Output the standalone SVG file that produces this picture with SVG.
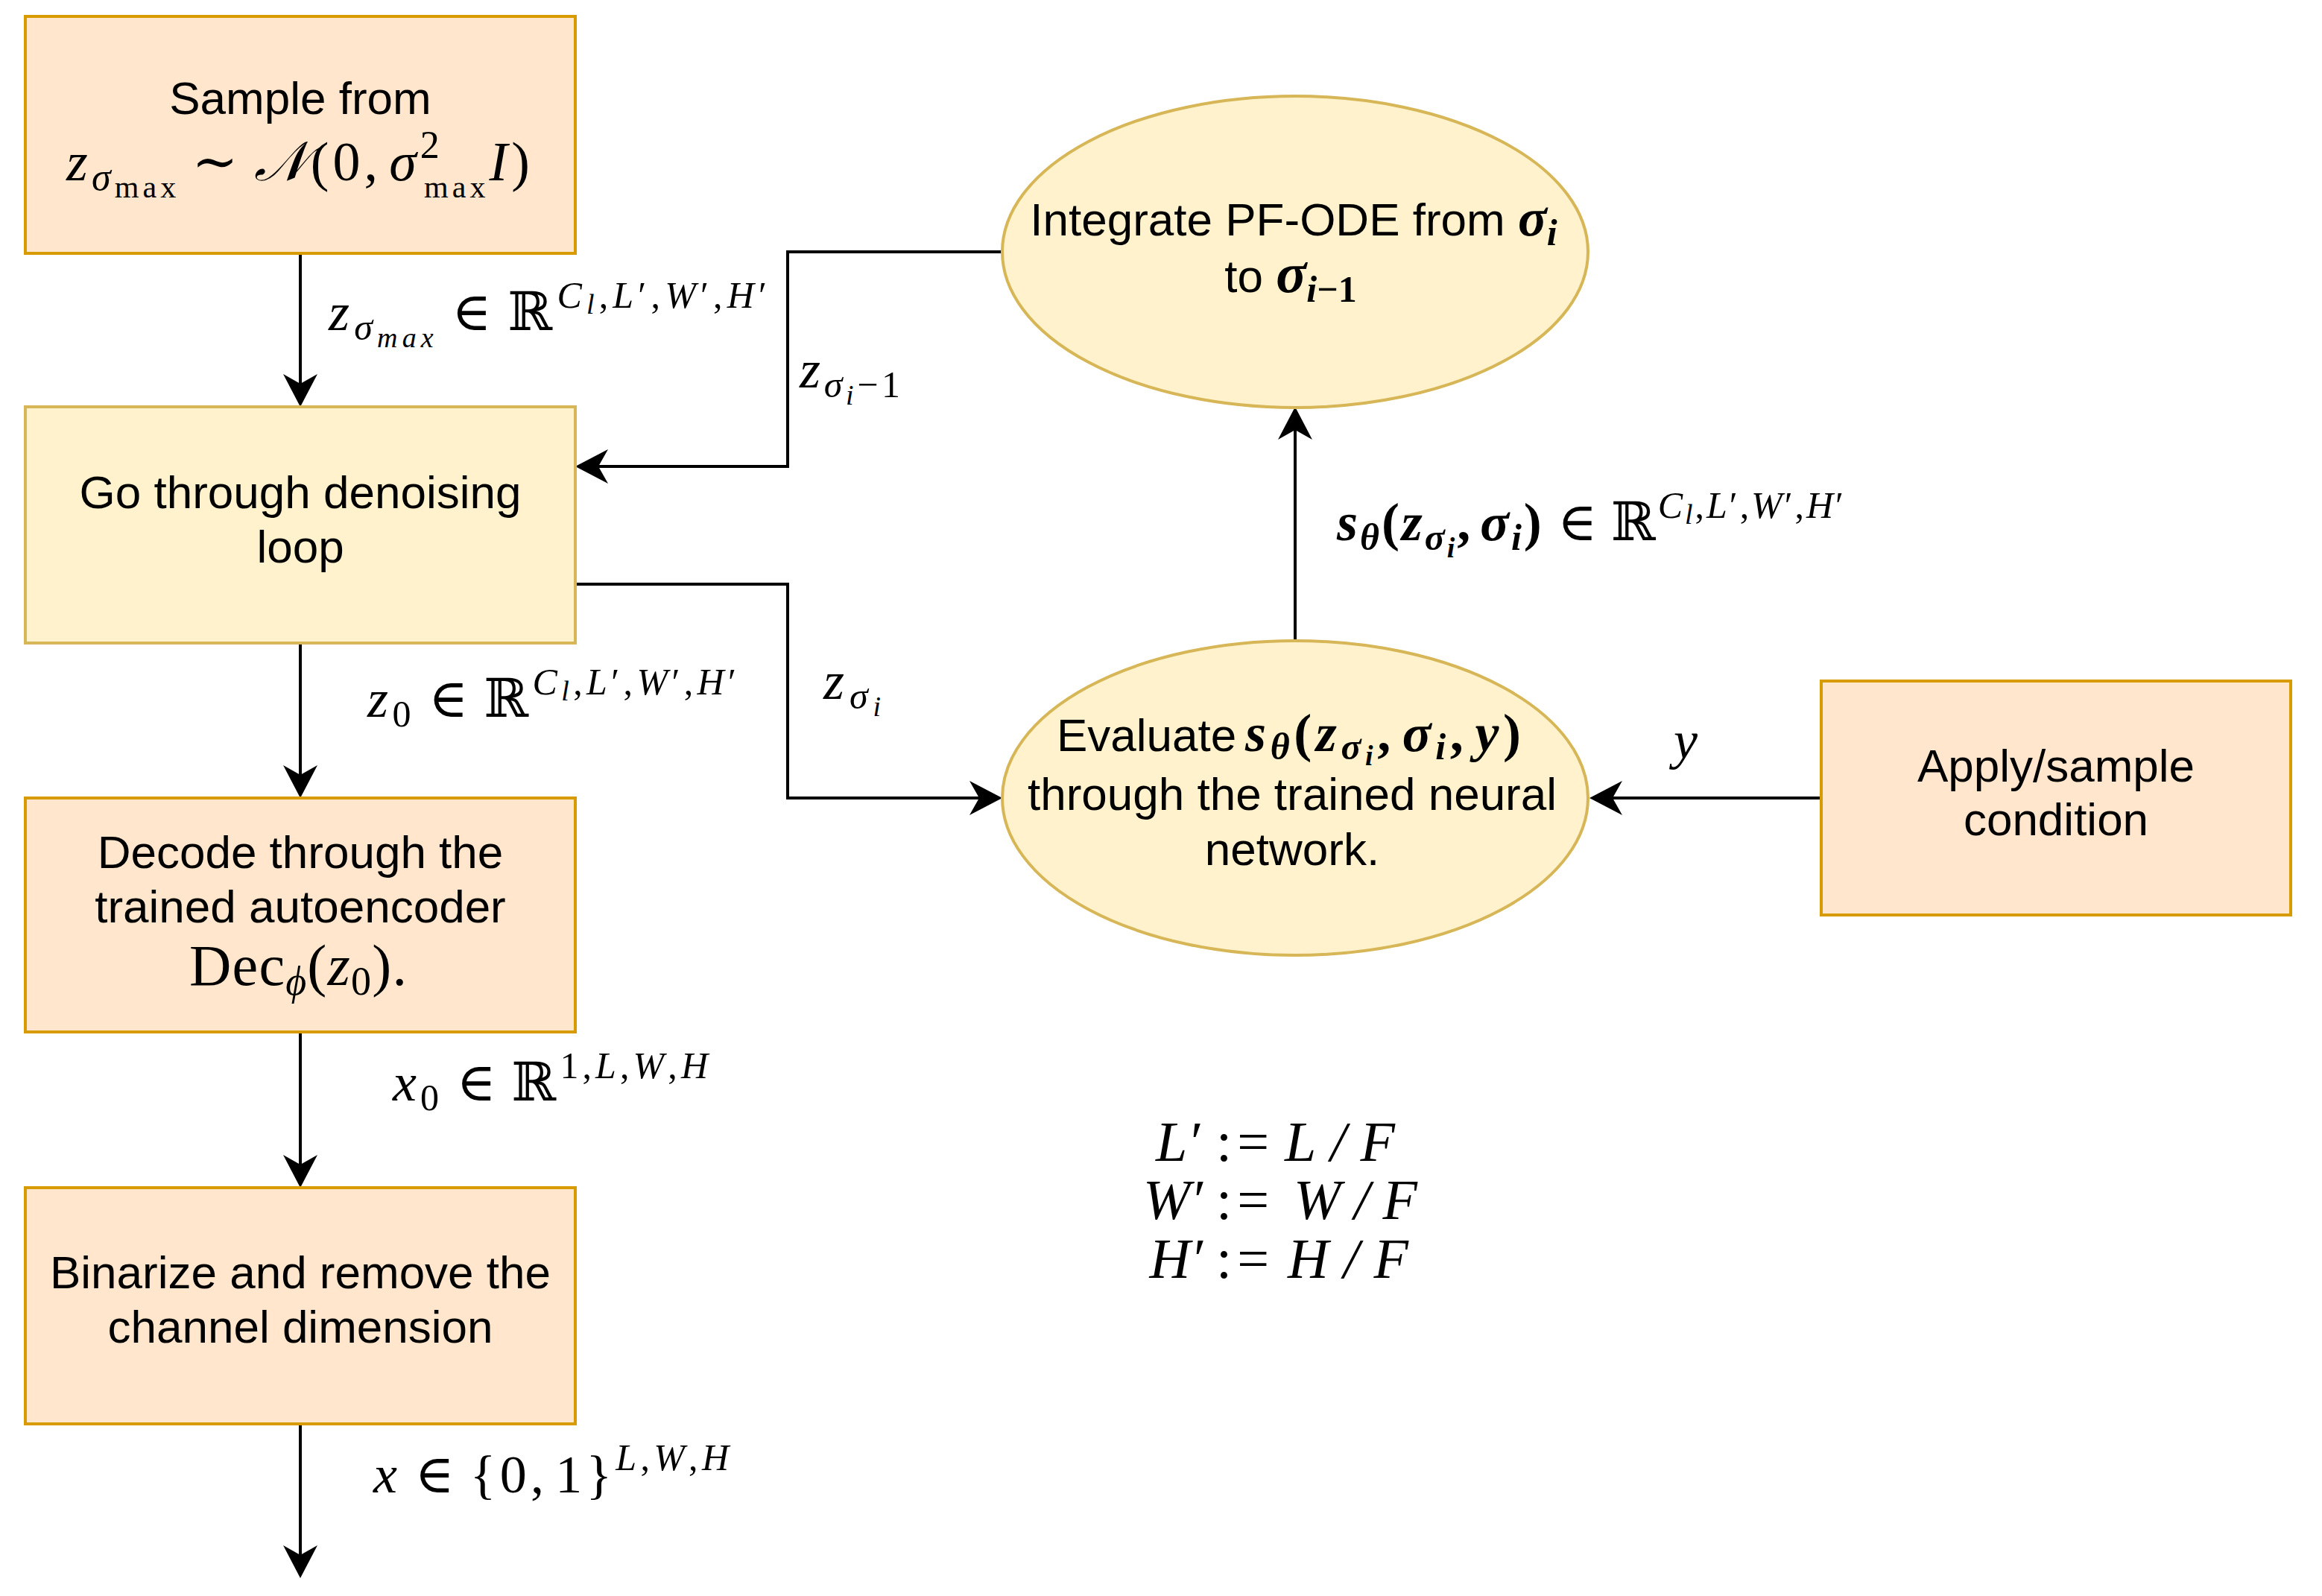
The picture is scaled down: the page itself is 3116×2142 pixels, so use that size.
<svg xmlns="http://www.w3.org/2000/svg" width="3116" height="2142" viewBox="0 0 3116 2142">
<style>
.bg{fill:#ffffff}
.or{fill:#FFE6CC;stroke:#D79B00;stroke-width:4}
.ye{fill:#FFF2CC;stroke:#D6B656;stroke-width:4}
.t{font-family:"Liberation Sans",Arial,sans-serif;font-size:62px;fill:#000;text-anchor:middle}
.ts{font-family:"Liberation Sans",Arial,sans-serif;font-size:62px;fill:#000}
.m{font-family:"Liberation Serif","DejaVu Serif",serif;font-size:72px;fill:#000}
.mc{text-anchor:middle}
.i{font-style:italic}
.b{font-weight:bold}
.s1{font-size:50px}
.s2{font-size:38px}
.d{font-family:"Liberation Serif","DejaVu Serif",serif;font-size:76px;fill:#000}
.c{fill:none;stroke:#000;stroke-width:4}
</style>
<defs>
<marker id="ah" viewBox="-36 -25 48 50" refX="0" refY="0" markerWidth="48" markerHeight="50" markerUnits="userSpaceOnUse" orient="auto">
<path d="M10,0 L-34,-23 L-21,0 L-34,23 Z" fill="#000"/>
</marker>
</defs>
<rect class="bg" x="0" y="0" width="3116" height="2142"/>

<g id="connectors">
<path class="c" d="M403,340 L403,536" marker-end="url(#ah)"/>
<path class="c" d="M1344,338 L1057,338 L1057,626 L782,626" marker-end="url(#ah)"/>
<path class="c" d="M772,784 L1057,784 L1057,1071 L1335,1071" marker-end="url(#ah)"/>
<path class="c" d="M1738,860 L1738,556" marker-end="url(#ah)"/>
<path class="c" d="M2444,1071 L2143,1071" marker-end="url(#ah)"/>
<path class="c" d="M403,863 L403,1061" marker-end="url(#ah)"/>
<path class="c" d="M403,1385 L403,1584" marker-end="url(#ah)"/>
<path class="c" d="M403,1911 L403,2108" marker-end="url(#ah)"/>
</g>

<g id="edge-labels">
<text class="m" x="441" y="443" textLength="588" lengthAdjust="spacing"><tspan class="i">z</tspan><tspan class="i s1" dy="13">σ</tspan><tspan class="i s2" dy="10">max</tspan><tspan dy="-23" dx="18">∈</tspan><tspan dx="16">ℝ</tspan><tspan class="i s1" dy="-30">C</tspan><tspan class="i s2" dy="8">l</tspan><tspan class="s1" dy="-8">,</tspan><tspan class="i s1">L</tspan><tspan class="s1">′,</tspan><tspan class="i s1">W</tspan><tspan class="s1">′,</tspan><tspan class="i s1">H</tspan><tspan class="s1">′</tspan></text>

<text class="m" x="1073" y="520" textLength="135" lengthAdjust="spacing"><tspan class="i">z</tspan><tspan class="i s1" dy="13">σ</tspan><tspan class="i s2" dy="10">i</tspan><tspan class="s1" dy="-10">−1</tspan></text>

<text class="m" x="493" y="962" textLength="495" lengthAdjust="spacing"><tspan class="i">z</tspan><tspan class="s1" dy="13">0</tspan><tspan dy="-13" dx="18">∈</tspan><tspan dx="16">ℝ</tspan><tspan class="i s1" dy="-30">C</tspan><tspan class="i s2" dy="8">l</tspan><tspan class="s1" dy="-8">,</tspan><tspan class="i s1">L</tspan><tspan class="s1">′,</tspan><tspan class="i s1">W</tspan><tspan class="s1">′,</tspan><tspan class="i s1">H</tspan><tspan class="s1">′</tspan></text>

<text class="m" x="1105" y="938" textLength="77" lengthAdjust="spacing"><tspan class="i">z</tspan><tspan class="i s1" dy="13">σ</tspan><tspan class="i s2" dy="10">i</tspan></text>

<text class="m" x="527" y="1477" textLength="423" lengthAdjust="spacing"><tspan class="i">x</tspan><tspan class="s1" dy="13">0</tspan><tspan dy="-13" dx="18">∈</tspan><tspan dx="16">ℝ</tspan><tspan class="s1" dy="-30">1,</tspan><tspan class="i s1">L</tspan><tspan class="s1">,</tspan><tspan class="i s1">W</tspan><tspan class="s1">,</tspan><tspan class="i s1">H</tspan></text>

<text class="m" x="501" y="2003" textLength="477" lengthAdjust="spacing"><tspan class="i">x</tspan><tspan dx="18">∈</tspan><tspan dx="16">{0,</tspan><tspan dx="10">1}</tspan><tspan class="i s1" dy="-30">L</tspan><tspan class="s1">,</tspan><tspan class="i s1">W</tspan><tspan class="s1">,</tspan><tspan class="i s1">H</tspan></text>

<text class="m" x="1794" y="725" textLength="680" lengthAdjust="spacing"><tspan class="i b">s</tspan><tspan class="i b s1" dy="13">θ</tspan><tspan class="b" dy="-13">(</tspan><tspan class="i b">z</tspan><tspan class="i b s1" dy="13">σ</tspan><tspan class="i b s2" dy="10">i</tspan><tspan class="b" dy="-23">,</tspan><tspan class="i b" dx="10">σ</tspan><tspan class="i b s1" dy="13">i</tspan><tspan class="b" dy="-13">)</tspan><tspan dx="18">∈</tspan><tspan dx="16">ℝ</tspan><tspan class="i s1" dy="-30">C</tspan><tspan class="i s2" dy="8">l</tspan><tspan class="s1" dy="-8">,</tspan><tspan class="i s1">L</tspan><tspan class="s1">′,</tspan><tspan class="i s1">W</tspan><tspan class="s1">′,</tspan><tspan class="i s1">H</tspan><tspan class="s1">′</tspan></text>

<text class="m i mc" x="2262" y="1018">y</text>
</g>

<g id="definitions">
<text class="d i" x="1610" y="1558" text-anchor="end">L′</text>
<text class="d" x="1632" y="1558" textLength="71" lengthAdjust="spacing">:=</text>
<text class="d i" x="1724" y="1558" textLength="148" lengthAdjust="spacing">L/F</text>
<text class="d i" x="1614" y="1636" text-anchor="end">W′</text>
<text class="d" x="1632" y="1636" textLength="71" lengthAdjust="spacing">:=</text>
<text class="d i" x="1736" y="1636" textLength="166" lengthAdjust="spacing">W/F</text>
<text class="d i" x="1614" y="1715" text-anchor="end">H′</text>
<text class="d" x="1632" y="1715" textLength="71" lengthAdjust="spacing">:=</text>
<text class="d i" x="1728" y="1715" textLength="162" lengthAdjust="spacing">H/F</text>
</g>

<g id="node-sample">
<rect class="or" x="34" y="22" width="738" height="318"/>
<text class="t" x="403" y="153">Sample from</text>
<text class="m mc" x="400" y="242" style="font-size:74px" textLength="622" lengthAdjust="spacing"><tspan class="i">z</tspan><tspan class="i" style="font-size:52px" dy="13">σ</tspan><tspan style="font-size:42px" dy="10">max</tspan><tspan dy="-23" dx="16">∼</tspan><tspan dx="16" class="i">𝒩</tspan><tspan>(0,</tspan><tspan dx="10" class="i">σ</tspan><tspan style="font-size:52px" dy="-30">2</tspan><tspan style="font-size:42px" dx="-26" dy="53">max</tspan><tspan class="i" dy="-23">I</tspan><tspan>)</tspan></text>
</g>

<g id="node-denoise">
<rect class="ye" x="34" y="546" width="738" height="317"/>
<text class="t" x="403" y="682">Go through denoising</text>
<text class="t" x="403" y="755">loop</text>
</g>

<g id="node-decode">
<rect class="or" x="34" y="1071" width="738" height="314"/>
<text class="t" x="403" y="1165">Decode through the</text>
<text class="t" x="403" y="1238">trained autoencoder</text>
<text class="m mc" x="400" y="1322" style="font-size:78px" textLength="292" lengthAdjust="spacing"><tspan>Dec</tspan><tspan class="i" style="font-size:54px" dy="13">ϕ</tspan><tspan dy="-13">(</tspan><tspan class="i">z</tspan><tspan style="font-size:54px" dy="13">0</tspan><tspan dy="-13">).</tspan></text>
</g>

<g id="node-binarize">
<rect class="or" x="34" y="1594" width="738" height="317"/>
<text class="t" x="403" y="1729">Binarize and remove the</text>
<text class="t" x="403" y="1802">channel dimension</text>
</g>

<g id="node-integrate">
<ellipse class="ye" cx="1738" cy="338" rx="393" ry="209"/>
<text class="t" x="1736" y="316">Integrate PF-ODE from <tspan class="m i b">σ</tspan><tspan class="m i b s1" dy="13">i</tspan></text>
<text class="t" x="1732" y="392">to <tspan class="m i b" style="font-size:76px">σ</tspan><tspan class="m i b s1" dy="13">i</tspan><tspan class="m b s1">−1</tspan></text>
</g>

<g id="node-evaluate">
<ellipse class="ye" cx="1738" cy="1071" rx="393" ry="211"/>
<text class="ts" x="1418" y="1008">Evaluate</text>
<text class="m" x="1671" y="1008" textLength="370" lengthAdjust="spacing"><tspan class="i b">s</tspan><tspan class="i b s1" dy="11">θ</tspan><tspan class="b" dy="-11">(</tspan><tspan class="i b">z</tspan><tspan class="i b s1" dy="11">σ</tspan><tspan class="i b s2" dy="8">i</tspan><tspan class="b" dy="-19">,</tspan><tspan class="i b" dx="10">σ</tspan><tspan class="i b s1" dy="11">i</tspan><tspan class="b" dy="-11">,</tspan><tspan class="i b" dx="10">y</tspan><tspan class="b">)</tspan></text>
<text class="t" x="1734" y="1087">through the trained neural</text>
<text class="t" x="1734" y="1161">network.</text>
</g>

<g id="node-condition">
<rect class="or" x="2444" y="914" width="630" height="314"/>
<text class="t" x="2759" y="1049">Apply/sample</text>
<text class="t" x="2759" y="1121">condition</text>
</g>
</svg>
